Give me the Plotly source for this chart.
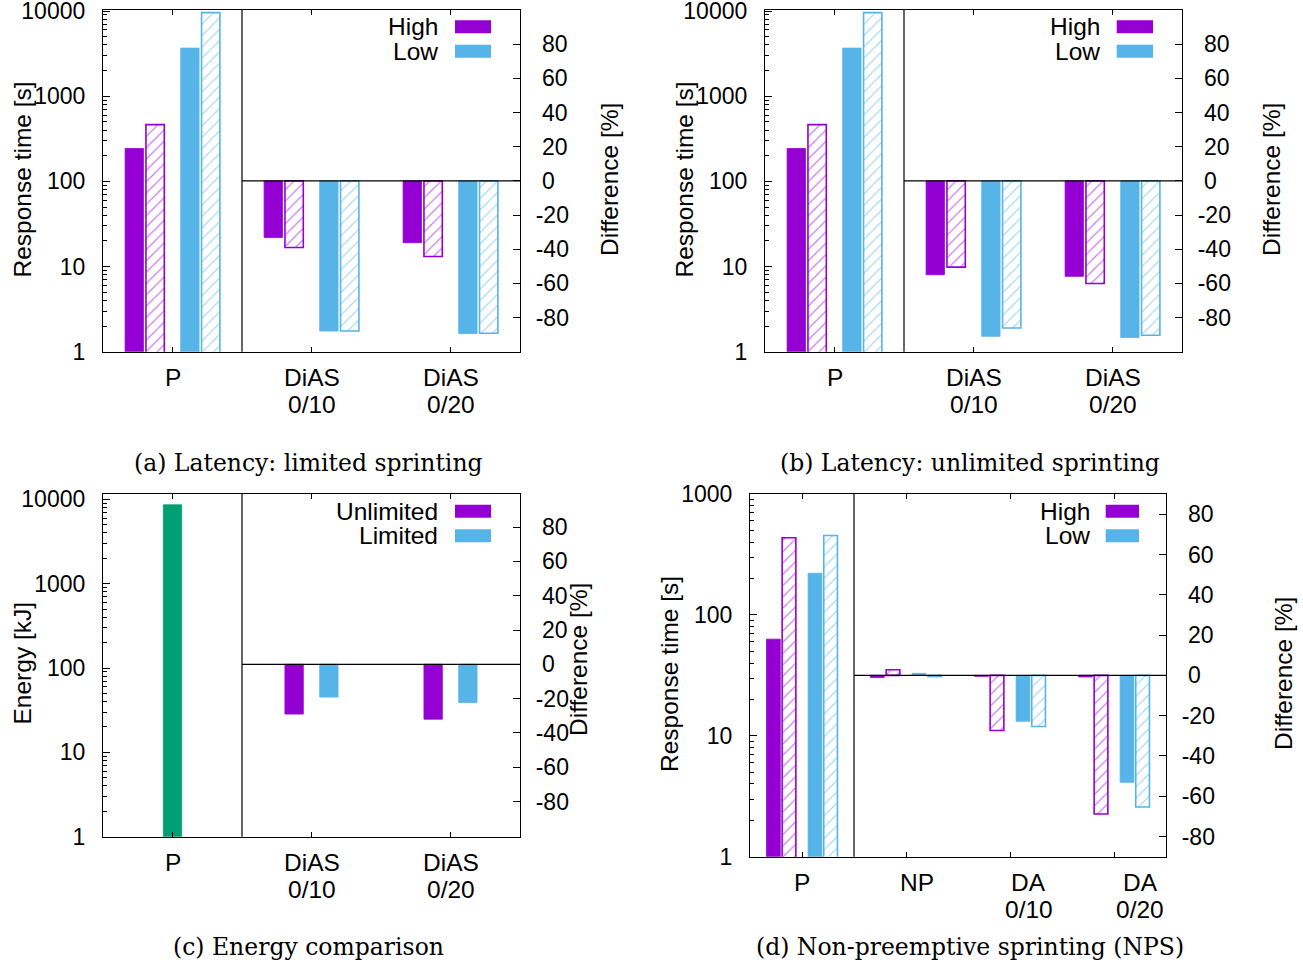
import plotly.graph_objects as go

W, H = 1303, 967

PURPLE = "#9400D3"
BLUE = "#56B4E9"
GREEN = "#009E73"
SANS = "Liberation Sans, Arial, Helvetica, sans-serif"
SERIF = "DejaVu Serif, serif"
FS = 23      # tick numbers
FT = 24.5    # titles, legend and category labels

# ---------------- data ----------------
# (a) Latency: limited sprinting
a_categories = ["P", "DiAS\n0/10", "DiAS\n0/20"]
a_p_values = [243, 463, 3670, 9570]          # High, High (hatched), Low, Low (hatched)  [s]
a_high_diff = [-33.2, -36.2]
a_high_hatched_diff = [-39.0, -44.3]
a_low_diff = [-87.9, -89.4]
a_low_hatched_diff = [-87.9, -89.2]

# (b) Latency: unlimited sprinting
b_categories = ["P", "DiAS\n0/10", "DiAS\n0/20"]
b_p_values = [243, 463, 3670, 9570]
b_high_diff = [-54.9, -55.9]
b_high_hatched_diff = [-50.5, -60.1]
b_low_diff = [-91.0, -91.7]
b_low_hatched_diff = [-86.1, -90.4]

# (c) Energy comparison
c_categories = ["P", "DiAS\n0/10", "DiAS\n0/20"]
c_p_energy = [8600]                            # [kJ]
c_unlimited_diff = [-29.0, -32.0]
c_limited_diff = [-19.1, -22.3]

# (d) Non-preemptive sprinting (NPS)
d_categories = ["P", "NP", "DA\n0/10", "DA\n0/20"]
d_p_values = [63, 435, 221, 454]
d_high_diff = [-1.1, -0.5, -0.8]
d_high_hatched_diff = [2.8, -27.4, -68.8]
d_low_diff = [1.0, -22.8, -53.1]
d_low_hatched_diff = [-0.6, -25.4, -65.3]

diff_ticks = [-80, -60, -40, -20, 0, 20, 40, 60, 80]
log_ticks4 = [1, 10, 100, 1000, 10000]
log_ticks3 = [1, 10, 100, 1000]

# ---------------- layout helpers ----------------
OFF4 = [-0.275, -0.125, 0.125, 0.275]
BAR_W = 0.132


def fx(x):
    return x / W


def fy(y):
    return 1 - y / H


panels = [
    dict(k=1, box=(103, 10, 520, 351.7), log_range=[0, 4.012], lin_range=[-100, 100],
         log_ticks=log_ticks4, cats=a_categories, label_shift=[0, 0, 0],
         series=[("High", PURPLE, False, OFF4[0], a_p_values[0], a_high_diff),
                 ("High (hatched)", PURPLE, True, OFF4[1], a_p_values[1], a_high_hatched_diff),
                 ("Low", BLUE, False, OFF4[2], a_p_values[2], a_low_diff),
                 ("Low (hatched)", BLUE, True, OFF4[3], a_p_values[3], a_low_hatched_diff)],
         legend=[("High", PURPLE), ("Low", BLUE)], leg=(440, 455, 491, [26.7, 51.3]),
         ytitle=("Response time [s]", 21.5, 180), rtitle=("Difference [%]", 609, 180),
         caption=("(a) Latency: limited sprinting", 308, 463)),
    dict(k=2, box=(765, 10, 1182, 351.7), log_range=[0, 4.012], lin_range=[-100, 100],
         log_ticks=log_ticks4, cats=b_categories, label_shift=[0, 0, 0],
         series=[("High", PURPLE, False, OFF4[0], b_p_values[0], b_high_diff),
                 ("High (hatched)", PURPLE, True, OFF4[1], b_p_values[1], b_high_hatched_diff),
                 ("Low", BLUE, False, OFF4[2], b_p_values[2], b_low_diff),
                 ("Low (hatched)", BLUE, True, OFF4[3], b_p_values[3], b_low_hatched_diff)],
         legend=[("High", PURPLE), ("Low", BLUE)], leg=(1101.7, 1116.7, 1153, [26.7, 51.3]),
         ytitle=("Response time [s]", 683.5, 180), rtitle=("Difference [%]", 1271, 180),
         caption=("(b) Latency: unlimited sprinting", 970, 463)),
    dict(k=3, box=(103, 494, 520, 836.7), log_range=[0, 4.063], lin_range=[-100.5, 99.3],
         log_ticks=log_ticks4, cats=c_categories, label_shift=[0, 0, 0],
         series=[("Energy", GREEN, False, 0.0, c_p_energy[0], None),
                 ("Unlimited", PURPLE, False, OFF4[1], None, c_unlimited_diff),
                 ("Limited", BLUE, False, OFF4[2], None, c_limited_diff)],
         legend=[("Unlimited", PURPLE), ("Limited", BLUE)], leg=(440, 455, 491, [511.3, 535.8]),
         ytitle=("Energy [kJ]", 21.5, 663), rtitle=("Difference [%]", 578, 660),
         caption=("(c) Energy comparison", 308, 947)),
    dict(k=4, box=(750, 494, 1166, 856.7), log_range=[0, 3.0], lin_range=[-90, 90],
         log_ticks=log_ticks3, cats=d_categories, label_shift=[0, 0.106, 0.18, 0.25],
         series=[("High", PURPLE, False, OFF4[0], d_p_values[0], d_high_diff),
                 ("High (hatched)", PURPLE, True, OFF4[1], d_p_values[1], d_high_hatched_diff),
                 ("Low", BLUE, False, OFF4[2], d_p_values[2], d_low_diff),
                 ("Low (hatched)", BLUE, True, OFF4[3], d_p_values[3], d_low_hatched_diff)],
         legend=[("High", PURPLE), ("Low", BLUE)], leg=(1091.7, 1105.7, 1139, [511.3, 535.8]),
         ytitle=("Response time [s]", 669, 674), rtitle=("Difference [%]", 1283, 674),
         caption=("(d) Non-preemptive sprinting (NPS)", 970, 947)),
]


def marker_for(color, hatched):
    if hatched:
        return dict(color="white", line=dict(color=color, width=1.6),
                    pattern=dict(shape="/", fgcolor=color, bgcolor="white", size=8, solidity=0.16))
    return dict(color=color, line=dict(color=color, width=0.8))


fig = go.Figure()
layout = dict(width=W, height=H, margin=dict(l=0, r=0, t=0, b=0, autoexpand=False),
              paper_bgcolor="white", plot_bgcolor="rgba(0,0,0,0)",
              showlegend=False, barmode="overlay", font=dict(family=SANS, size=FS, color="black"))
shapes = []
annotations = []

for p in panels:
    k = p["k"]
    xid = "x" if k == 1 else f"x{k}"
    ylog = "y" if k == 1 else f"y{2 * k - 1}"
    ylin = f"y{2 * k}"
    xkey = "xaxis" if k == 1 else f"xaxis{k}"
    ylogkey = "yaxis" if k == 1 else f"yaxis{2 * k - 1}"
    ylinkey = f"yaxis{2 * k}"
    x0, y0, x1, y1 = p["box"]
    n = len(p["cats"])

    layout[xkey] = dict(domain=[fx(x0), fx(x1)], anchor=ylog, range=[-0.5, n - 0.5],
                        tickvals=list(range(n)), showticklabels=False, ticks="inside",
                        ticklen=5, tickcolor="black", showline=True, linecolor="black",
                        linewidth=1.2, mirror="ticks", showgrid=False, zeroline=False,
                        automargin=False)
    minor_vals = [m * 10 ** d for d in range(0, 5) for m in range(2, 10)]
    layout[ylogkey] = dict(domain=[fy(y1), fy(y0)], anchor=xid, type="log",
                           range=p["log_range"], tickvals=p["log_ticks"],
                           ticktext=[str(v) for v in p["log_ticks"]],
                           ticks="inside", ticklen=7, tickcolor="black", side="left",
                           showline=True, linecolor="black", linewidth=1.2,
                           showgrid=False, zeroline=False, ticklabelstandoff=12,
                           automargin=False, ticklabeloverflow="allow",
                           minor=dict(tickvals=minor_vals, ticks="inside", ticklen=3.5,
                                      tickcolor="black", showgrid=False))
    layout[ylinkey] = dict(overlaying=ylog, anchor=xid, side="right", range=p["lin_range"],
                           tickvals=diff_ticks,
                           ticktext=[("\u00a0" + str(v)) if v >= 0 else str(v) for v in diff_ticks],
                           ticks="inside", ticklen=7, tickcolor="black",
                           showline=True, linecolor="black", linewidth=1.2,
                           showgrid=False, zeroline=False, ticklabelstandoff=10,
                           automargin=False, ticklabeloverflow="allow")

    for name, color, hatched, off, pval, diffs in p["series"]:
        if pval is not None:
            fig.add_trace(go.Bar(x=[0 + off], y=[pval], width=BAR_W, name=name,
                                 marker=marker_for(color, hatched), xaxis=xid, yaxis=ylog))
        if diffs is not None:
            fig.add_trace(go.Bar(x=[i + off for i in range(1, n)], y=diffs, width=BAR_W,
                                 name=name, marker=marker_for(color, hatched),
                                 xaxis=xid, yaxis=ylin))

    # zero line of the difference part and divider
    shapes.append(dict(type="line", xref=xid, yref=ylin, x0=0.5, x1=n - 0.5, y0=0, y1=0,
                       line=dict(color="black", width=1.2)))
    shapes.append(dict(type="line", xref=xid, yref=f"{ylog} domain", x0=0.5, x1=0.5, y0=0, y1=1,
                       line=dict(color="black", width=1.2)))

    # category labels
    for i, lab in enumerate(p["cats"]):
        for j, line in enumerate(lab.split("\n")):
            annotations.append(dict(text=line, xref=xid, yref="paper",
                                    x=i + p["label_shift"][i], y=fy(y1 + 26 + 26.5 * j),
                                    xanchor="center", yanchor="middle", showarrow=False,
                                    font=dict(family=SANS, size=FT)))

    # legend
    tx, sx0, sx1, rows = p["leg"]
    for (txt, col), yc in zip(p["legend"], rows):
        annotations.append(dict(text=txt, xref="paper", yref="paper", x=fx(tx), y=fy(yc),
                                xanchor="right", yanchor="middle", showarrow=False,
                                font=dict(family=SANS, size=FT)))
        shapes.append(dict(type="rect", xref="paper", yref="paper", x0=fx(sx0), x1=fx(sx1),
                           y0=fy(yc + 6.5), y1=fy(yc - 6.5), fillcolor=col,
                           line=dict(width=0)))

    # axis titles
    t, xx, yy = p["ytitle"]
    annotations.append(dict(text=t, xref="paper", yref="paper", x=fx(xx), y=fy(yy),
                            textangle=-90, xanchor="center", yanchor="middle", showarrow=False,
                            font=dict(family=SANS, size=FT)))
    t, xx, yy = p["rtitle"]
    annotations.append(dict(text=t, xref="paper", yref="paper", x=fx(xx), y=fy(yy),
                            textangle=-90, xanchor="center", yanchor="middle", showarrow=False,
                            font=dict(family=SANS, size=FT)))
    t, xx, yy = p["caption"]
    annotations.append(dict(text=t, xref="paper", yref="paper", x=fx(xx), y=fy(yy),
                            xanchor="center", yanchor="middle", showarrow=False,
                            font=dict(family=SERIF, size=23.5)))

layout["shapes"] = shapes
layout["annotations"] = annotations
fig.update_layout(**layout)
fig.write_html("out.html")
